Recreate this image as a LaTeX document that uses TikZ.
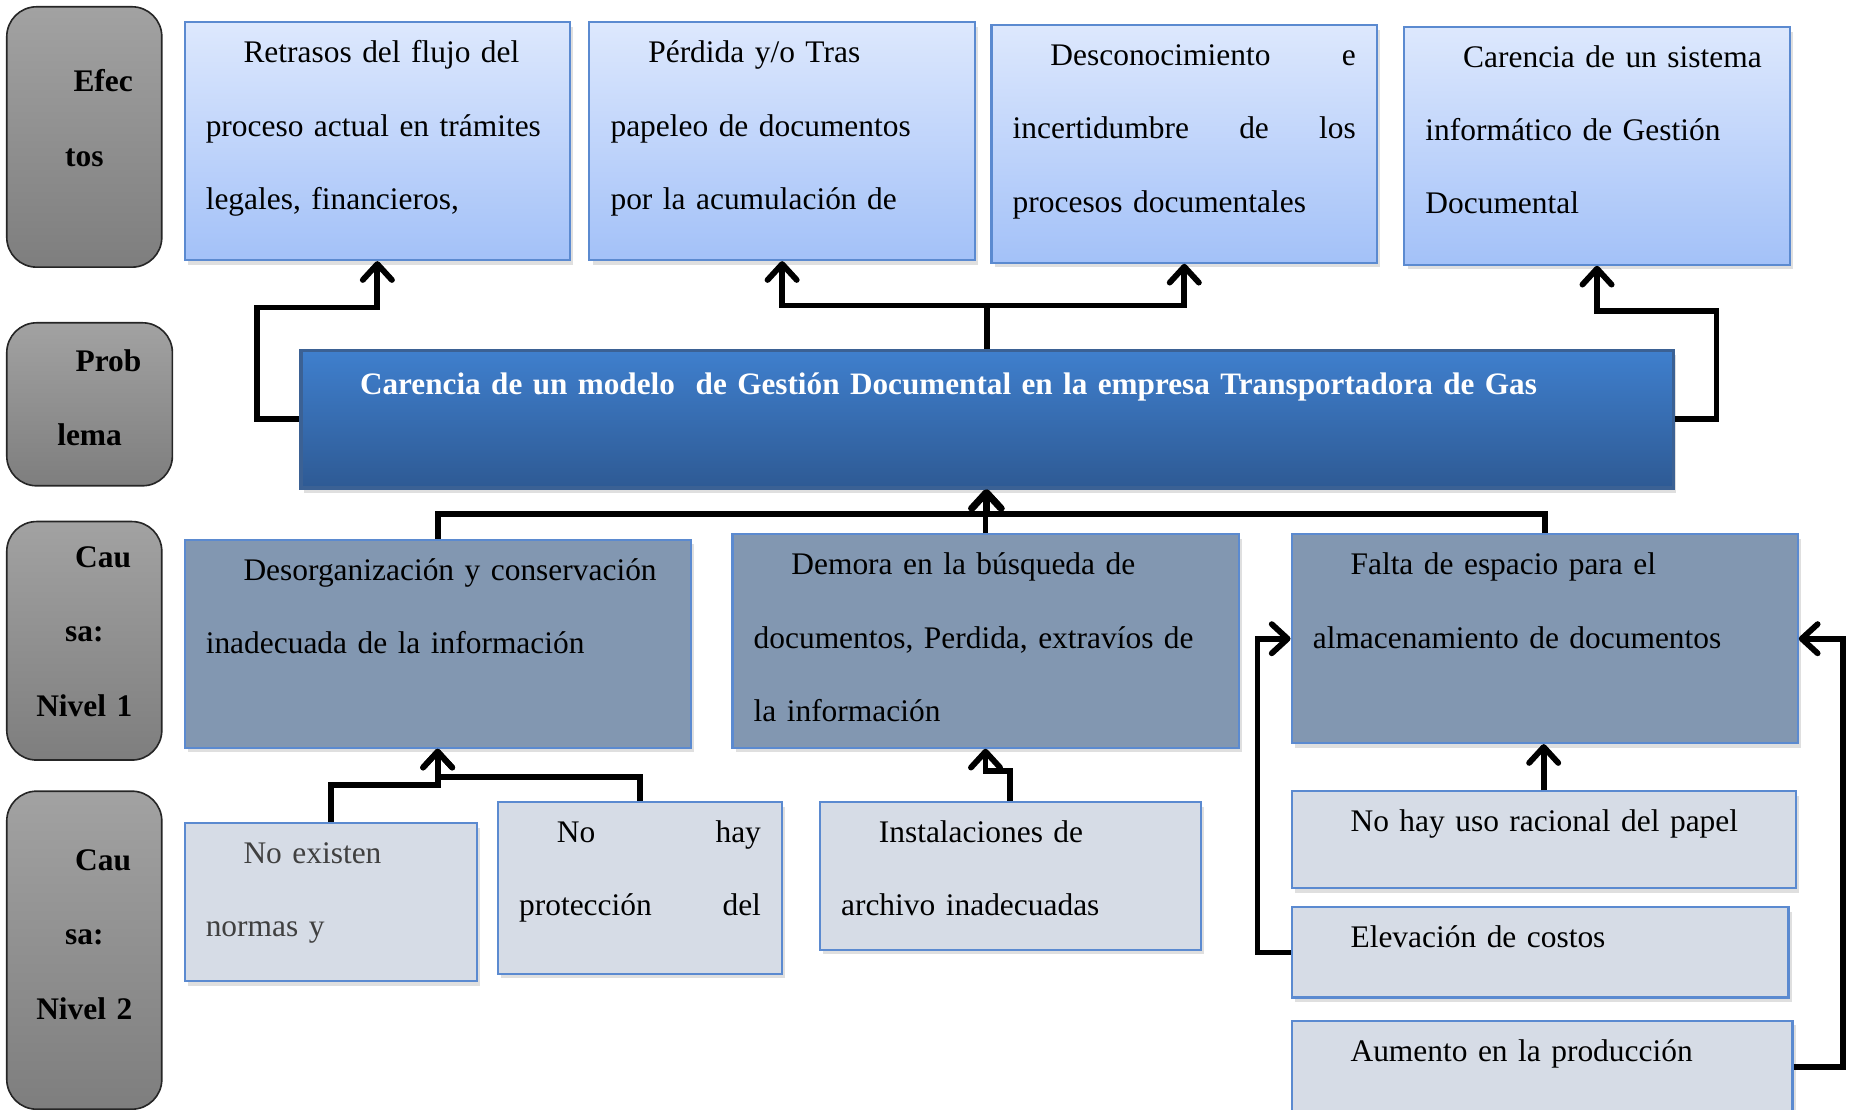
\documentclass[tikz,border=0pt]{standalone}
\usepackage{fontspec}
\setmainfont{Liberation Serif}
\usetikzlibrary{arrows.meta,shadows}

\definecolor{sidetop}{HTML}{A2A2A2}
\definecolor{sidebottom}{HTML}{7E7E7E}
\definecolor{efftop}{HTML}{DDE8FD}
\definecolor{effbottom}{HTML}{A3C1F8}
\definecolor{boxline}{HTML}{5B8AD0}
\definecolor{probtop}{HTML}{3F7FCD}
\definecolor{probbottom}{HTML}{2E5A94}
\definecolor{probline}{HTML}{3B6194}
\definecolor{causeone}{HTML}{8297B1}
\definecolor{causetwo}{HTML}{D6DCE6}

\newcommand{\sangria}{\hspace*{0.57cm}}

\begin{document}
\begin{tikzpicture}[
    sidebox/.style={
        draw=black!85,
        line width=0.7pt,
        rounded corners=0.45cm,
        top color=sidetop,
        bottom color=sidebottom,
        anchor=north west,
        align=center,
        text width=2.34cm,
        inner xsep=0pt,
        inner ysep=0pt,
        font=\bfseries\fontsize{13.5}{32}\selectfont
    },
    panel/.style={
        draw=boxline,
        line width=0.9pt,
        anchor=north west,
        align=left,
        inner xsep=0.32cm,
        inner ysep=0pt,
        text height=0.61cm,
        font=\fontsize{13.5}{31.5}\selectfont
    },
    effect/.style={
        panel,
        top color=efftop,
        bottom color=effbottom,
        text width=5.18cm,
        text depth=2.98cm,
        drop shadow={opacity=0.25, shadow xshift=0.05cm, shadow yshift=-0.07cm}
    },
    problem/.style={
        panel,
        draw=probline,
        line width=1.4pt,
        top color=probtop,
        bottom color=probbottom,
        text=white,
        text width=20.07cm,
        text height=0.66cm,
        text depth=1.41cm,
        font=\bfseries\fontsize{13.4}{31.5}\selectfont,
        drop shadow={opacity=0.25, shadow xshift=0.05cm, shadow yshift=-0.07cm}
    },
    causeA/.style={
        panel,
        fill=causeone,
        text width=7.00cm,
        drop shadow={opacity=0.25, shadow xshift=0.05cm, shadow yshift=-0.07cm}
    },
    causeB/.style={
        panel,
        fill=causetwo,
        drop shadow={opacity=0.25, shadow xshift=0.05cm, shadow yshift=-0.07cm}
    },
    link/.style={
        line width=2.5pt,
        -{Straight Barb[length=2.4mm, width=4.4mm, round]}
    }
]
\useasboundingbox (0,0) rectangle (28,-16.754);
\clip (0,0) rectangle (28,-16.754);

% --- Side labels ---
\node[sidebox, text height=1.28cm, text depth=2.65cm] (lab1) at (0.09,-0.09) {\sangria Efec\\tos};
\node[sidebox, text width=2.50cm, text height=0.73cm, text depth=1.73cm] (lab2) at (0.09,-4.86) {\sangria Prob\\lema};
\node[sidebox, text height=0.69cm, text depth=2.91cm] (lab3) at (0.09,-7.86) {\sangria Cau\\sa:\\Nivel 1};
\node[sidebox, text height=1.19cm, text depth=3.61cm] (lab4) at (0.09,-11.93) {\sangria Cau\\sa:\\Nivel 2};

% --- Effects ---
\node[effect] (e1) at (2.77,-0.32) {\sangria Retrasos del flujo del\\proceso actual en trámites\\legales, financieros,};
\node[effect] (e2) at (8.88,-0.32) {\sangria Pérdida y/o Tras\\papeleo de documentos\\por la acumulación de};
\node[effect] (e3) at (14.95,-0.36) {\sangria Desconocimiento\hfill e\\incertidumbre\hfill de\hfill los\\procesos documentales};
\node[effect] (e4) at (21.18,-0.39) {\sangria Carencia de un sistema\\informático de Gestión\\Documental};

% --- Problem ---
\node[problem] (prob) at (4.52,-5.27) {\sangria Carencia de un modelo~ de Gestión Documental en la empresa Transportadora de Gas};

% --- Causes, level 1 ---
\node[causeA, text depth=2.53cm] (c1) at (2.77,-8.13) {\sangria Desorganización y conservación\\inadecuada de la información};
\node[causeA, text depth=2.61cm] (c2) at (11.04,-8.05) {\sangria Demora en la búsqueda de\\documentos, Perdida, extravíos de\\la información};
\node[causeA, text depth=2.54cm] (c3) at (19.48,-8.05) {\sangria Falta de espacio para el\\almacenamiento de documentos};

% --- Causes, level 2 ---
\node[causeB, text width=3.77cm, text depth=1.77cm, text=black!75] (d1) at (2.77,-12.41) {\sangria No existen\\normas y};
\node[causeB, text width=3.65cm, text depth=1.98cm] (d2) at (7.50,-12.09) {\sangria No\hfill hay\\protección\hfill del};
\node[causeB, text width=5.11cm, text depth=1.62cm] (d3) at (12.36,-12.09) {\sangria Instalaciones de\\archivo inadecuadas};
\node[causeB, text width=6.97cm, text depth=0.85cm] (d4) at (19.48,-11.93) {\sangria No hay uso racional del papel};
\node[causeB, text width=6.86cm, text depth=0.75cm] (d5) at (19.48,-13.68) {\sangria Elevación de costos};
\node[causeB, text width=6.92cm, text depth=0.79cm] (d6) at (19.48,-15.39) {\sangria Aumento en la producción};

% --- Problem to effects ---
\draw[link] (prob.west) -- ++(-0.64,0) |- ([yshift=-0.70cm]e1.south) -- (e1.south);
\draw[link] (prob.north) -- ++(0,0.66) -| (e2.south);
\draw[link] (prob.north) -- ++(0,0.66) -| (e3.south);
\draw[link] (prob.east) -- ++(0.63,0) |- ([yshift=-0.68cm]e4.south) -- (e4.south);

% --- Causes to problem ---
\draw[link] (c1.north) |- ([yshift=-0.37cm]prob.south) -- (prob.south);
\draw[link] (c3.north) |- ([yshift=-0.37cm]prob.south) -- (prob.south);
\draw[link] (c2.north) -- (c2.north |- prob.south);

% --- Level 2 to level 1 ---
\draw[link] (d1.north) |- ([yshift=-0.55cm]c1.south) -- (c1.south);
\draw[link] (d2.north) |- ([yshift=-0.43cm]c1.south) -- (c1.south);
\draw[link] (d3.north) |- ([yshift=-0.34cm]c2.south) -- (c2.south);
\draw[link] (d4.north) -- (d4.north |- c3.south);
\draw[link] (d5.west) -- ++(-0.50,0) |- (c3.west);
\draw[link] (d6.east) -- ++(0.75,0) |- (c3.east);

\end{tikzpicture}
\end{document}
